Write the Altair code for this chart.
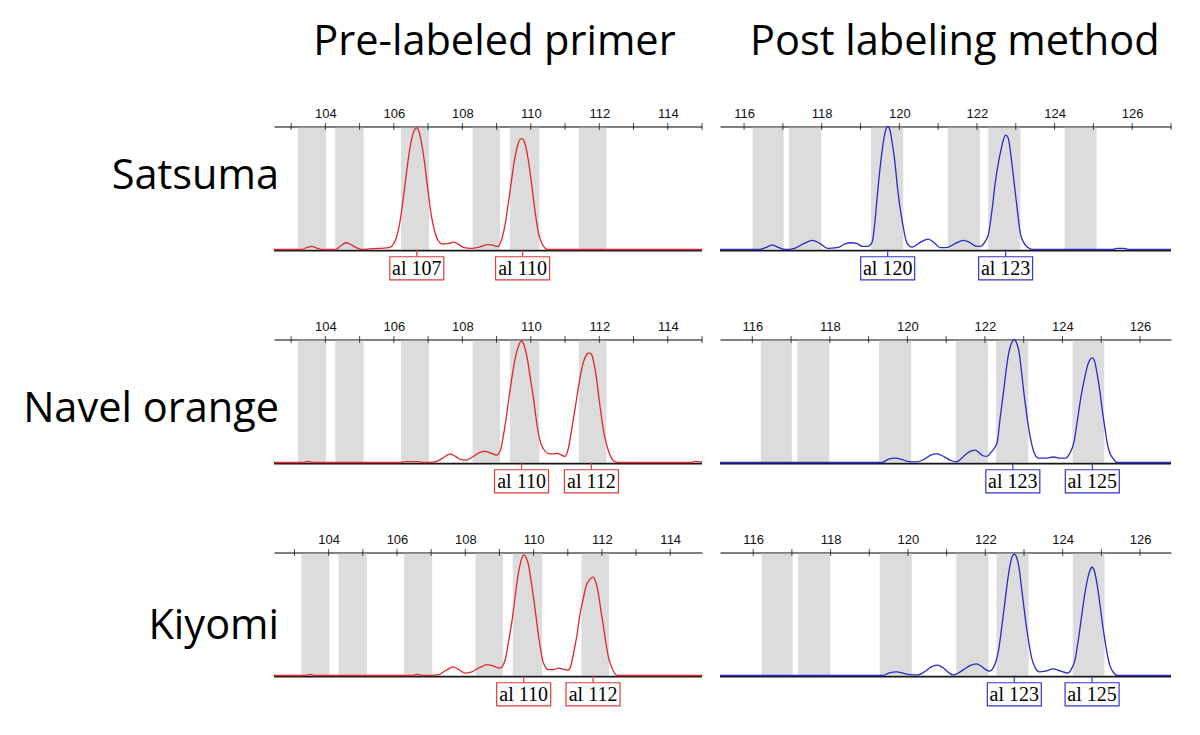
import altair as alt
import pandas as pd

# ---------------- data ----------------
TITLES = ["Pre-labeled primer", "Post labeling method"]
ROW_LABELS = ["Satsuma", "Navel orange", "Kiyomi"]

LEFT_TICKS = list(range(103, 116))
RIGHT_TICKS = list(range(116, 128))
LEFT_TICK_LABELS = [104, 106, 108, 110, 112, 114]
RIGHT_TICK_LABELS = [116, 118, 120, 122, 124, 126]

LEFT_BIN_START = [103.2, 104.29, 106.21, 108.3, 109.39, 111.4]
LEFT_BIN_END = [104.02, 105.12, 107.03, 109.1, 110.25, 112.21]
RIGHT_BIN_START = [116.22, 117.16, 119.27, 121.25, 122.29, 124.26]
RIGHT_BIN_END = [117.02, 117.99, 120.1, 122.08, 123.12, 125.08]

SATSUMA_PRE_X = [102.5, 103.3, 103.45, 103.6, 103.75, 103.9, 104.3, 104.45, 104.6, 104.75, 104.95, 105.1,
                 105.3, 105.85, 105.95, 106.05, 106.15, 106.25, 106.35, 106.45, 106.55, 106.62, 106.67,
                 106.72, 106.8, 106.9, 107.0, 107.1, 107.2, 107.3, 107.42, 107.6, 107.75, 107.9, 108.05,
                 108.25, 108.5, 108.75, 108.9, 109.02, 109.12, 109.22, 109.32, 109.42, 109.52, 109.62,
                 109.7, 109.76, 109.83, 109.92, 110.02, 110.12, 110.22, 110.32, 110.42, 110.5, 115.0]
SATSUMA_PRE_Y = [0, 0, 1.5, 2.5, 1.2, 0, 0, 3, 5.5, 4, 1, 0,
                 0.5, 1.5, 3, 8, 18, 36, 58, 79, 93, 98, 99,
                 97, 88, 70, 47, 27, 14, 7, 4.5, 5, 6, 4, 1.5,
                 1, 2, 4, 3.5, 2.5, 6, 16, 33, 53, 72, 85,
                 90, 90, 86, 74, 54, 32, 14, 5, 1, 0, 0]

SATSUMA_POST_X = [115.38, 116.4, 116.55, 116.73, 116.9, 117.05, 117.3, 117.55, 117.76, 117.95, 118.15,
                  118.4, 118.6, 118.75, 118.9, 119.05, 119.18, 119.3, 119.37, 119.43, 119.56, 119.64,
                  119.7, 119.76, 119.82, 119.89, 119.95, 120.08, 120.2, 120.33, 120.55, 120.74, 120.9,
                  121.05, 121.2, 121.45, 121.65, 121.8, 121.95, 122.08, 122.2, 122.3, 122.4, 122.47,
                  122.55, 122.62, 122.68, 122.74, 122.8, 122.87, 122.93, 123.0, 123.06, 123.12, 123.2,
                  123.3, 123.42, 125.5, 125.6, 125.8, 125.9, 127.0]
SATSUMA_POST_Y = [0, 0, 1.5, 3.5, 1.5, 0, 1, 5, 7.5, 5, 1,
                  1.5, 4.5, 5.5, 5, 2.5, 2.5, 6, 22, 43, 81, 96,
                  100, 97, 86, 70, 51, 22, 5, 2, 6, 8.5, 5.5,
                  1.5, 1.5, 5, 7.5, 6, 3, 2.5, 6, 13, 35, 54,
                  70, 81, 89, 93, 91, 78, 62, 43, 27, 13, 6,
                  2, 0, 0, 1, 1, 0, 0]

NAVEL_PRE_X = [102.5, 103.35, 103.5, 103.65, 106.2, 106.35, 106.7, 106.9, 107.2, 107.45, 107.64, 107.8,
               107.95, 108.1, 108.3, 108.5, 108.66, 108.85, 109.0, 109.1, 109.2, 109.3, 109.4, 109.5,
               109.62, 109.73, 109.82, 109.9, 110.0, 110.08, 110.15, 110.22, 110.3, 110.37, 110.5,
               110.65, 110.78, 110.9, 111.0, 111.1, 111.2, 111.3, 111.4, 111.52, 111.64, 111.7, 111.77,
               111.85, 111.93, 112.0, 112.08, 112.15, 112.23, 112.3, 112.37, 112.47, 112.55, 114.7,
               114.8, 114.95, 115.0]
NAVEL_PRE_Y = [0, 0, 1, 0, 0, 0.8, 0.8, 0, 0.5, 4, 7, 5,
               2.5, 2, 4.5, 8, 9, 7.5, 6, 9, 22, 40, 60, 78,
               93, 99, 94, 84, 66, 52, 37, 24, 15, 11, 7.5,
               7, 7.5, 6, 5, 12, 28, 45, 63, 80, 88, 89, 88,
               80, 66, 50, 34, 22, 13, 7, 3, 0.5, 0, 0,
               1, 0.5, 0.5]

NAVEL_POST_X = [115.167, 119.35, 119.5, 119.69, 119.85, 120.0, 120.25, 120.45, 120.6, 120.76, 120.9,
                121.1, 121.25, 121.35, 121.5, 121.65, 121.75, 121.85, 121.95, 122.05, 122.15, 122.25,
                122.32, 122.4, 122.49, 122.56, 122.62, 122.7, 122.76, 122.82, 122.88, 122.94, 123.0,
                123.07, 123.14, 123.2, 123.27, 123.39, 123.55, 123.77, 123.95, 124.08, 124.18, 124.3,
                124.38, 124.47, 124.56, 124.64, 124.7, 124.77, 124.84, 124.9, 124.97, 125.03, 125.1,
                125.16, 125.22, 125.29, 125.42, 126.8]
NAVEL_POST_Y = [0, 0, 2.5, 3.5, 2.5, 1, 0.5, 3, 6, 7, 5.5,
                2, 0.5, 2, 6.5, 9.5, 10, 8, 5.5, 5, 8, 12,
                17, 38, 60, 78, 90, 98, 100, 97, 90, 75, 58,
                41, 26, 16, 8, 3.5, 3.5, 4.5, 3.5, 3.5, 7, 17,
                33, 52, 67, 78, 83, 85, 81, 71, 57, 42, 27,
                15, 8, 4, 0, 0]

KIYOMI_PRE_X = [102.4, 103.3, 103.46, 103.6, 106.45, 106.6, 106.75, 107.2, 107.45, 107.64, 107.8, 108.0,
                108.15, 108.35, 108.5, 108.63, 108.8, 109.02, 109.1, 109.17, 109.27, 109.37, 109.45,
                109.53, 109.62, 109.71, 109.78, 109.85, 109.92, 110.0, 110.08, 110.15, 110.22, 110.29,
                110.44, 110.6, 110.73, 110.88, 111.02, 111.1, 111.17, 111.27, 111.36, 111.45, 111.54,
                111.64, 111.74, 111.82, 111.9, 111.97, 112.05, 112.12, 112.19, 112.27, 112.34, 112.46,
                114.93]
KIYOMI_PRE_Y = [0, 0, 1, 0, 0, 1, 0, 0.5, 4.5, 7, 5, 2,
                2.5, 5.5, 7.5, 8.8, 8, 6, 8, 13, 28, 45, 62,
                79, 92, 98, 96, 90, 78, 63, 46, 31, 19, 10,
                4.8, 5, 6, 5, 4.5, 9, 18, 33, 50, 62, 73,
                78, 80, 76, 66, 53, 39, 26, 15, 8, 3.5, 0,
                0]

KIYOMI_POST_X = [115.142, 119.35, 119.5, 119.71, 119.87, 120.0, 120.25, 120.45, 120.6, 120.76, 120.9,
                 121.05, 121.17, 121.3, 121.45, 121.6, 121.77, 121.9, 122.0, 122.12, 122.2, 122.27,
                 122.34, 122.42, 122.5, 122.58, 122.64, 122.7, 122.75, 122.81, 122.87, 122.93, 123.0,
                 123.07, 123.14, 123.2, 123.28, 123.4, 123.55, 123.75, 123.95, 124.14, 124.22, 124.32,
                 124.4, 124.48, 124.56, 124.64, 124.7, 124.76, 124.82, 124.88, 124.95, 125.02, 125.09,
                 125.16, 125.22, 125.3, 125.42, 126.8]
KIYOMI_POST_Y = [0, 0, 2, 3, 2, 1, 0.5, 3.5, 7, 8.4, 6.5,
                 2.5, 0.5, 2, 5, 8, 9.5, 7.5, 5, 3.5, 6, 11,
                 20, 38, 58, 78, 90, 97, 98.6, 96, 88, 73, 55,
                 38, 24, 14, 7, 3, 3.5, 5.4, 3.5, 2, 5, 13,
                 28, 46, 64, 78, 85, 88, 85, 76, 61, 44, 29,
                 16, 8, 3, 0, 0]

SATSUMA_PRE_ALLELES = ["al 107", "al 110"]
SATSUMA_PRE_CALLS = [106.67, 109.76]
SATSUMA_POST_ALLELES = ["al 120", "al 123"]
SATSUMA_POST_CALLS = [119.7, 122.74]
NAVEL_PRE_ALLELES = ["al 110", "al 112"]
NAVEL_PRE_CALLS = [109.73, 111.77]
NAVEL_POST_ALLELES = ["al 123", "al 125"]
NAVEL_POST_CALLS = [122.72, 124.77]
KIYOMI_PRE_ALLELES = ["al 110", "al 112"]
KIYOMI_PRE_CALLS = [109.71, 111.74]
KIYOMI_POST_ALLELES = ["al 123", "al 125"]
KIYOMI_POST_CALLS = [122.75, 124.76]

# ---------------- layout / style ----------------
LEFT_W, RIGHT_W, PANEL_H = 428, 451, 155
Y_DOMAIN = [-26, 100]
DOMAINS = [[[102.5, 115.0], [115.38, 127.0]],
           [[102.5, 115.0], [115.167, 126.8]],
           [[102.4, 114.93], [115.142, 126.8]]]
ROW_LABEL_DY = [62.6, 82.4, 86.5]
TITLE_DX = [220.5, 234.8]
GRAY = "#dcdcdd"
RED, BLUE = "#e3262b", "#2a2ac6"
RED_BOX, BLUE_BOX = "#dc3c3c", "#3434c8"
BOX_SHAPE = "M-1,-0.426L1,-0.426L1,0.426L-1,0.426Z"
TITLE_FONT = "Open Sans"


def panel(row, col, tx, ty, names, calls):
    domain = DOMAINS[row][col]
    left = col == 0
    width = LEFT_W if left else RIGHT_W
    ticks = [t for t in (LEFT_TICKS if left else RIGHT_TICKS) if domain[0] <= t <= domain[1]]
    tick_labels = LEFT_TICK_LABELS if left else RIGHT_TICK_LABELS
    bs, be = (LEFT_BIN_START, LEFT_BIN_END) if left else (RIGHT_BIN_START, RIGHT_BIN_END)
    line_color = RED if left else BLUE
    box_color = RED_BOX if left else BLUE_BOX

    xs = alt.Scale(domain=domain, nice=False, zero=False)
    ys = alt.Scale(domain=Y_DOMAIN, nice=False, zero=False)
    ax = alt.Axis(orient="top", values=tick_labels, ticks=False, grid=False, title=None,
                  domainColor="black", domainWidth=1, labelFont="Liberation Sans",
                  labelFontSize=13, labelColor="#111", labelPadding=6,
                  labelFlush=False, labelOverlap=False)

    bins = alt.Chart(pd.DataFrame({"start": bs, "end": be})).mark_rect(color=GRAY).encode(
        x=alt.X("start:Q", scale=xs, axis=ax, title=None),
        x2="end:Q",
        y=alt.YDatum(0, scale=ys, axis=None),
        y2=alt.Y2Datum(99),
    )
    baseline = alt.Chart(pd.DataFrame({"v": [0]})).mark_rule(color="#161616", strokeWidth=1.6).encode(
        y=alt.YDatum(-0.9, scale=ys, axis=None)
    )
    tickmarks = alt.Chart(pd.DataFrame({"t": ticks})).mark_tick(
        orient="vertical", size=7, thickness=1, color="black").encode(
        x=alt.X("t:Q", scale=xs, axis=ax, title=None),
        y=alt.YDatum(100, scale=ys, axis=None),
    )
    trace = alt.Chart(pd.DataFrame({"x": tx, "y": ty})).mark_line(
        color=line_color, strokeWidth=1.3, interpolate="monotone").encode(
        x=alt.X("x:Q", scale=xs, axis=ax, title=None),
        y=alt.Y("y:Q", scale=ys, axis=None),
    )
    adf = pd.DataFrame({"pos": calls, "name": names})
    stems = alt.Chart(adf).mark_rule(color=box_color, strokeWidth=1.2).encode(
        x=alt.X("pos:Q", scale=xs, axis=ax, title=None),
        y=alt.YDatum(0, scale=ys, axis=None),
        y2=alt.Y2Datum(-5.9),
    )
    boxes = alt.Chart(adf).mark_point(
        shape=BOX_SHAPE, size=2916, filled=True, fill="white", stroke=box_color,
        strokeWidth=1.2, opacity=1, fillOpacity=1).encode(
        x=alt.X("pos:Q", scale=xs, axis=ax, title=None),
        y=alt.YDatum(-15.25, scale=ys, axis=None),
    )
    texts = alt.Chart(adf).mark_text(
        font="Liberation Serif", fontSize=20, color="black", baseline="middle", dy=1).encode(
        x=alt.X("pos:Q", scale=xs, axis=ax, title=None),
        y=alt.YDatum(-15.25, scale=ys, axis=None),
        text="name:N",
    )
    layers = [bins, baseline, trace, tickmarks, stems, boxes, texts]
    if left:
        layers.append(
            alt.Chart(pd.DataFrame({"t": [ROW_LABELS[row]]})).mark_text(
                font=TITLE_FONT, fontSize=41.5, color="black", align="right",
                baseline="alphabetic", dx=5, dy=ROW_LABEL_DY[row]).encode(
                x=alt.XDatum(domain[0], scale=xs, axis=ax),
                y=alt.YDatum(100, scale=ys, axis=None),
                text="t:N",
            )
        )
    if row == 0:
        layers.append(
            alt.Chart(pd.DataFrame({"t": [TITLES[col]]})).mark_text(
                font=TITLE_FONT, fontSize=41.5, color="black", align="center",
                baseline="alphabetic", dx=TITLE_DX[col], dy=-71.7).encode(
                x=alt.XDatum(domain[0], scale=xs, axis=ax),
                y=alt.YDatum(100, scale=ys, axis=None),
                text="t:N",
            )
        )
    return alt.layer(*layers).properties(width=width, height=PANEL_H)


traces = [
    [(SATSUMA_PRE_X, SATSUMA_PRE_Y, SATSUMA_PRE_ALLELES, SATSUMA_PRE_CALLS),
     (SATSUMA_POST_X, SATSUMA_POST_Y, SATSUMA_POST_ALLELES, SATSUMA_POST_CALLS)],
    [(NAVEL_PRE_X, NAVEL_PRE_Y, NAVEL_PRE_ALLELES, NAVEL_PRE_CALLS),
     (NAVEL_POST_X, NAVEL_POST_Y, NAVEL_POST_ALLELES, NAVEL_POST_CALLS)],
    [(KIYOMI_PRE_X, KIYOMI_PRE_Y, KIYOMI_PRE_ALLELES, KIYOMI_PRE_CALLS),
     (KIYOMI_POST_X, KIYOMI_POST_Y, KIYOMI_POST_ALLELES, KIYOMI_POST_CALLS)],
]

panels = [panel(r, c, *traces[r][c]) for r in range(3) for c in range(2)]

chart = alt.concat(*panels, columns=2, spacing={"row": 58, "column": 18},
                   bounds="flush").properties(
    padding={"left": 15, "top": 13.5, "right": 5, "bottom": 5},
    background="white",
).configure_view(stroke=None)

chart.save("out.html", embed_options={"renderer": "svg", "actions": False})
